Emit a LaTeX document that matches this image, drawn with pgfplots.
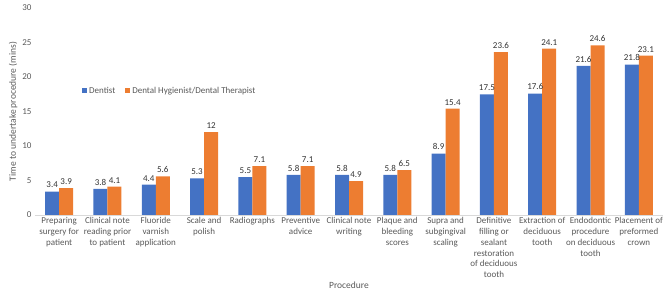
\documentclass[border=0pt]{standalone}
\usepackage{pgfplots}
\pgfplotsset{compat=1.18}
\usepackage{fontspec}
\setmainfont{Carlito}
\definecolor{cblue}{HTML}{4472C4}
\definecolor{corange}{HTML}{ED7D31}
\definecolor{txt}{HTML}{595959}
\definecolor{axl}{HTML}{D9D9D9}
\begin{document}
\begin{tikzpicture}
\path[use as bounding box] (-35pt,-91pt) rectangle (634pt,215pt);
\begin{axis}[
  at={(0,0)}, anchor=south west,
  scale only axis, width=628pt, height=207pt,
  ybar=0pt, bar width=14pt,
  xmin=-0.5, xmax=12.5, ymin=0, ymax=30,
  ytick={0,5,...,30},
  xtick={0,...,12},
  xticklabels={
    {Preparing\\surgery for\\patient},
    {Clinical note\\reading prior\\to patient},
    {Fluoride\\varnish\\application},
    {Scale and\\polish},
    {Radiographs},
    {Preventive\\advice},
    {Clinical note\\writing},
    {Plaque and\\bleeding\\scores},
    {Supra and\\subgingival\\scaling},
    {Definitive\\filling or\\sealant\\restoration\\of deciduous\\tooth},
    {Extraction of\\deciduous\\tooth},
    {Endodontic\\procedure\\on deciduous\\tooth},
    {Placement of\\preformed\\crown}},
  xticklabel style={align=center, font=\fontsize{9}{10.8}\selectfont, text=txt, anchor=north, yshift=1pt},
  yticklabel style={font=\fontsize{9}{10.8}\selectfont, text=txt},
  /pgf/number format/assume math mode=true,
  major tick length=0pt,
  axis line style={draw=none},
  extra x tick style={},
  ylabel={Time to undertake procedure (mins)},
  xlabel={Procedure},
  label style={font=\fontsize{9.5}{11}\selectfont, text=txt},
  ylabel style={yshift=-2pt},
  xlabel style={yshift=3pt},
  nodes near coords,
  every node near coord/.append style={font=\fontsize{9}{10.8}\selectfont, text=black!80, /pgf/number format/assume math mode=true},
  legend style={draw=none, at={(rel axis cs:0.07,0.60)}, anchor=west, font=\fontsize{9}{10.8}\selectfont, text=txt, legend columns=2, /tikz/every even column/.append style={column sep=8pt}},
  legend image code/.code={\fill[#1] (0pt,-2.5pt) rectangle (5pt,2.5pt);},
]
\addplot[fill=cblue, draw=none] coordinates {(0,3.4) (1,3.8) (2,4.4) (3,5.3) (4,5.5) (5,5.8) (6,5.8) (7,5.8) (8,8.9) (9,17.5) (10,17.6) (11,21.6) (12,21.8)};
\addplot[fill=corange, draw=none] coordinates {(0,3.9) (1,4.1) (2,5.6) (3,12) (4,7.1) (5,7.1) (6,4.9) (7,6.5) (8,15.4) (9,23.6) (10,24.1) (11,24.6) (12,23.1)};
\legend{Dentist, Dental Hygienist/Dental Therapist}
\draw[axl, line width=0.8pt] (rel axis cs:0,0) -- (rel axis cs:1,0);
\end{axis}
\end{tikzpicture}
\end{document}
